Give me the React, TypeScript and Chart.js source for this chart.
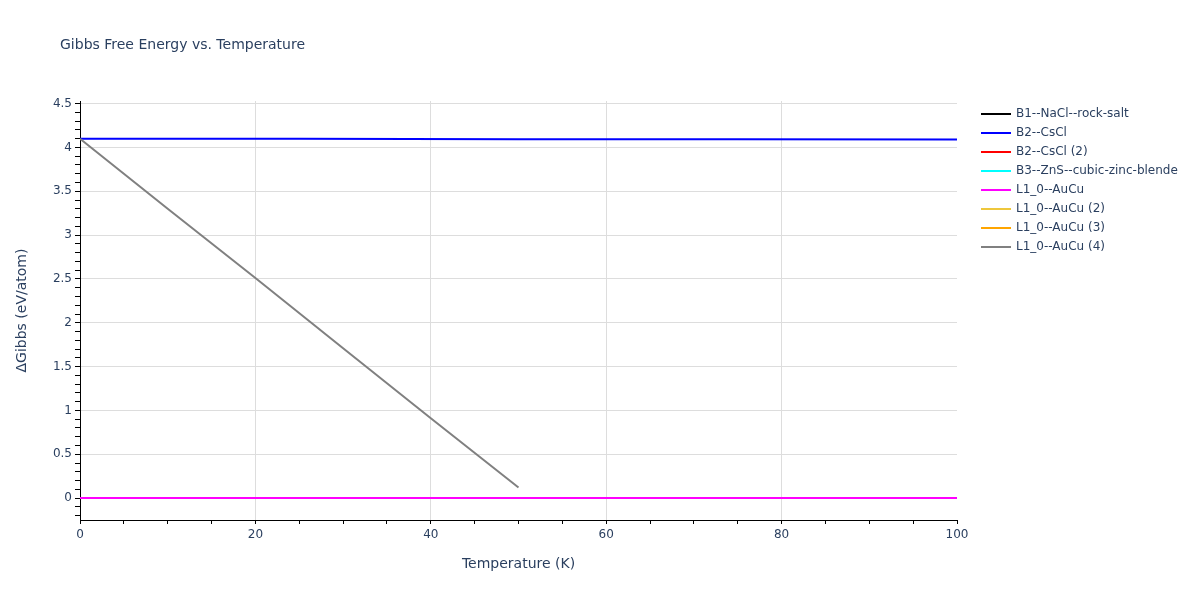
import React, { useEffect, useRef } from 'react';
import { Chart, registerables } from 'chart.js';

Chart.register(...registerables);

// Temperature grids (K)
const tempFull = [0, 25, 50, 75, 100];
const tempShort = [0, 10, 20, 30, 40, 50];

// Series values (eV/atom); the hidden traces sit under the visible ones
const b1NaCl = [0, 0, 0, 0, 0];
const b2CsCl = [4.1, 4.098, 4.095, 4.093, 4.09];
const b2CsCl2 = [0, 0, 0, 0, 0];
const b3ZnS = [0, 0, 0, 0, 0];
const l10AuCu = [0, 0, 0, 0, 0];
const l10AuCu2: number[] = [];
const l10AuCu3: number[] = [];
const l10AuCu4 = [4.1, 3.3, 2.51, 1.71, 0.91, 0.12];

const seriesNames = [
  'B1--NaCl--rock-salt',
  'B2--CsCl',
  'B2--CsCl (2)',
  'B3--ZnS--cubic-zinc-blende',
  'L1_0--AuCu',
  'L1_0--AuCu (2)',
  'L1_0--AuCu (3)',
  'L1_0--AuCu (4)',
];
const seriesColors = ['#000000', '#0000ff', '#ff0000', '#00ffff', '#ff00ff', '#eec73c', '#ffa500', '#808080'];
const seriesX = [tempFull, tempFull, tempFull, tempFull, tempFull, tempShort, tempShort, tempShort];
const seriesY = [b1NaCl, b2CsCl, b2CsCl2, b3ZnS, l10AuCu, l10AuCu2, l10AuCu3, l10AuCu4];

// Axis ticks
const xMajor = [0, 20, 40, 60, 80, 100];
const yMajor = [0, 0.5, 1, 1.5, 2, 2.5, 3, 3.5, 4, 4.5];

const TEXT = '#2a3f5f';
const FONT = '"DejaVu Sans", Verdana, sans-serif';
const GRID = '#dddddd';

const isMajor = (v: number, list: number[]) => list.some((m) => Math.abs(m - v) < 1e-9);

// Title + legend drawn on the canvas
const decorPlugin = {
  id: 'decor',
  afterDraw(chart: Chart) {
    const ctx = chart.ctx;
    ctx.save();
    ctx.fillStyle = TEXT;
    ctx.textBaseline = 'middle';
    ctx.textAlign = 'left';
    ctx.font = `14px ${FONT}`;
    ctx.fillText('Gibbs Free Energy vs. Temperature', 60, 45);

    ctx.font = `12px ${FONT}`;
    seriesNames.forEach((name, i) => {
      const y = 114 + i * 19;
      ctx.strokeStyle = seriesColors[i];
      ctx.lineWidth = 2;
      ctx.beginPath();
      ctx.moveTo(981, y);
      ctx.lineTo(1011, y);
      ctx.stroke();
      ctx.fillStyle = TEXT;
      ctx.fillText(name, 1016, y);
    });
    ctx.restore();
  },
};

const App: React.FC = () => {
  const canvasRef = useRef<HTMLCanvasElement>(null);
  const chartRef = useRef<Chart | null>(null);

  useEffect(() => {
    document.body.style.margin = '0';
    if (!canvasRef.current) return;
    if (chartRef.current) chartRef.current.destroy();

    const datasets = seriesNames.map((name, i) => ({
      label: name,
      data: seriesY[i].map((y, j) => ({ x: seriesX[i][j], y })),
      borderColor: seriesColors[i],
      backgroundColor: seriesColors[i],
      borderWidth: 2,
      pointRadius: 0,
      fill: false,
      tension: 0,
      order: seriesNames.length - i,
    }));

    chartRef.current = new Chart(canvasRef.current, {
      type: 'line',
      data: { datasets },
      plugins: [decorPlugin],
      options: {
        animation: false,
        responsive: true,
        maintainAspectRatio: false,
        layout: { padding: { top: 101, right: 243, bottom: 0, left: 0 } },
        plugins: {
          legend: { display: false },
          title: { display: false },
          tooltip: { enabled: false },
        },
        scales: {
          x: {
            type: 'linear',
            min: 0,
            max: 100,
            afterBuildTicks: (scale: any) => {
              const t = [];
              for (let v = 0; v <= 100; v += 5) t.push({ value: v });
              scale.ticks = t;
            },
            afterFit: (scale: any) => {
              scale.height = 80;
            },
            border: { display: true, color: '#000000', width: 1 },
            grid: {
              color: (c: any) =>
                isMajor(c.tick?.value, xMajor) && c.tick.value !== 0 && c.tick.value !== 100 ? GRID : 'rgba(0,0,0,0)',
              tickColor: '#000000',
              tickLength: 4,
              drawTicks: true,
            },
            ticks: {
              autoSkip: false,
              maxRotation: 0,
              padding: 4,
              color: TEXT,
              font: { family: FONT, size: 12 },
              callback: (v: any) => (isMajor(Number(v), xMajor) ? String(v) : ''),
            },
            title: {
              display: true,
              text: 'Temperature (K)',
              color: TEXT,
              font: { family: FONT, size: 14 },
              padding: { top: 0, bottom: 27 },
            },
          },
          y: {
            type: 'linear',
            min: -0.25,
            max: 4.53,
            afterBuildTicks: (scale: any) => {
              const t = [];
              for (let i = -2; i <= 45; i++) t.push({ value: Math.round(i) / 10 });
              scale.ticks = t;
            },
            afterFit: (scale: any) => {
              scale.width = 80;
            },
            border: { display: true, color: '#000000', width: 1 },
            grid: {
              color: (c: any) => (isMajor(c.tick?.value, yMajor) ? GRID : 'rgba(0,0,0,0)'),
              tickColor: '#000000',
              tickLength: 5,
            },
            ticks: {
              autoSkip: false,
              padding: 3,
              color: TEXT,
              font: { family: FONT, size: 12 },
              callback: (v: any) => (isMajor(Number(v), yMajor) ? String(v) : ''),
            },
            title: {
              display: true,
              text: 'ΔGibbs (eV/atom)',
              color: TEXT,
              font: { family: FONT, size: 14 },
              padding: { top: 14, bottom: 0 },
            },
          },
        },
      },
    });

    return () => {
      if (chartRef.current) {
        chartRef.current.destroy();
        chartRef.current = null;
      }
    };
  }, []);

  return (
    <div style={{ width: 1200, height: 600, position: 'relative', background: '#ffffff' }}>
      <canvas ref={canvasRef} />
    </div>
  );
};

export default App;
